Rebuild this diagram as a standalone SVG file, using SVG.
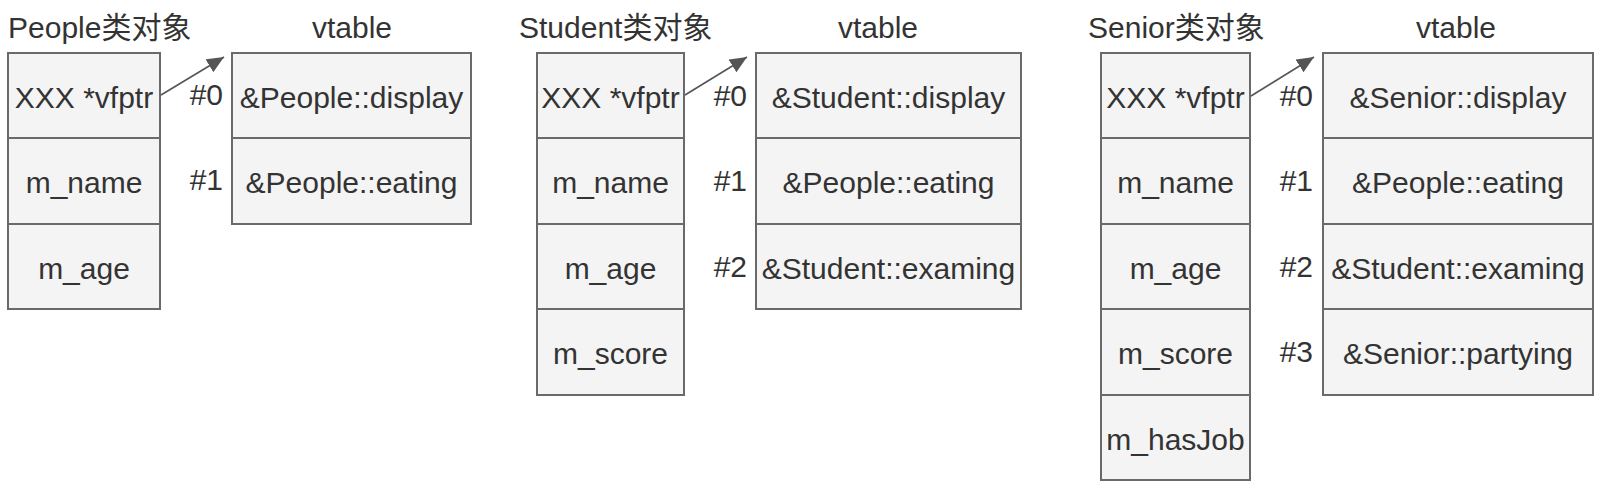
<svg xmlns="http://www.w3.org/2000/svg" width="1609" height="491" viewBox="0 0 1609 491">
<style>
.cell{fill:#f4f4f4;stroke:#6a6a6a;stroke-width:2}
text{font-family:"Liberation Sans",Arial,"Noto Sans CJK SC",sans-serif;font-size:30px;fill:#333}
.c{text-anchor:middle}
.r{text-anchor:end}
.conn{stroke:#555;stroke-width:1.6;fill:none}
</style>
<defs>
<marker id="ah" markerUnits="userSpaceOnUse" markerWidth="18" markerHeight="15" refX="17" refY="7.5" orient="auto">
<path d="M0,0 L17,7.5 L0,15 z" fill="#555"/>
</marker>
</defs>
<rect width="1609" height="491" fill="#fff"/>

<g id="people-obj">
<text x="8" y="38">People类对象</text>
<rect class="cell" x="8" y="53" width="152" height="85"/>
<rect class="cell" x="8" y="138" width="152" height="86"/>
<rect class="cell" x="8" y="224" width="152" height="85"/>
<text class="c" x="84" y="108">XXX *vfptr</text>
<text class="c" x="84" y="193">m_name</text>
<text class="c" x="84" y="279">m_age</text>
</g>
<g id="people-vtable">
<text class="c" x="352" y="38">vtable</text>
<rect class="cell" x="232" y="53" width="239" height="85"/>
<rect class="cell" x="232" y="138" width="239" height="86"/>
<text class="c" x="351.5" y="108">&amp;People::display</text>
<text class="c" x="351.5" y="193">&amp;People::eating</text>
<text class="r" x="223" y="105">#0</text>
<text class="r" x="223" y="190">#1</text>
</g>

<g id="student-obj">
<text x="519" y="38">Student类对象</text>
<rect class="cell" x="537" y="53" width="147" height="85"/>
<rect class="cell" x="537" y="138" width="147" height="86"/>
<rect class="cell" x="537" y="224" width="147" height="85"/>
<rect class="cell" x="537" y="309" width="147" height="86"/>
<text class="c" x="610.5" y="108">XXX *vfptr</text>
<text class="c" x="610.5" y="193">m_name</text>
<text class="c" x="610.5" y="279">m_age</text>
<text class="c" x="610.5" y="364">m_score</text>
</g>
<g id="student-vtable">
<text class="c" x="878" y="38">vtable</text>
<rect class="cell" x="756" y="53" width="265" height="85"/>
<rect class="cell" x="756" y="138" width="265" height="86"/>
<rect class="cell" x="756" y="224" width="265" height="85"/>
<text class="c" x="888.5" y="108">&amp;Student::display</text>
<text class="c" x="888.5" y="193">&amp;People::eating</text>
<text class="c" x="888.5" y="279">&amp;Student::examing</text>
<text class="r" x="747" y="106">#0</text>
<text class="r" x="747" y="191">#1</text>
<text class="r" x="747" y="277">#2</text>
</g>

<g id="senior-obj">
<text x="1088" y="38">Senior类对象</text>
<rect class="cell" x="1101" y="53" width="149" height="85"/>
<rect class="cell" x="1101" y="138" width="149" height="86"/>
<rect class="cell" x="1101" y="224" width="149" height="85"/>
<rect class="cell" x="1101" y="309" width="149" height="86"/>
<rect class="cell" x="1101" y="395" width="149" height="85"/>
<text class="c" x="1175.5" y="108">XXX *vfptr</text>
<text class="c" x="1175.5" y="193">m_name</text>
<text class="c" x="1175.5" y="279">m_age</text>
<text class="c" x="1175.5" y="364">m_score</text>
<text class="c" x="1175.5" y="450">m_hasJob</text>
</g>
<g id="senior-vtable">
<text class="c" x="1456" y="38">vtable</text>
<rect class="cell" x="1323" y="53" width="270" height="85"/>
<rect class="cell" x="1323" y="138" width="270" height="86"/>
<rect class="cell" x="1323" y="224" width="270" height="85"/>
<rect class="cell" x="1323" y="309" width="270" height="86"/>
<text class="c" x="1458" y="108">&amp;Senior::display</text>
<text class="c" x="1458" y="193">&amp;People::eating</text>
<text class="c" x="1458" y="279">&amp;Student::examing</text>
<text class="c" x="1458" y="364">&amp;Senior::partying</text>
<text class="r" x="1313" y="106">#0</text>
<text class="r" x="1313" y="191">#1</text>
<text class="r" x="1313" y="277">#2</text>
<text class="r" x="1313" y="362">#3</text>
</g>

<g id="connectors">
<line class="conn" x1="161" y1="95" x2="224" y2="57" marker-end="url(#ah)"/>
<line class="conn" x1="685" y1="95" x2="747" y2="57" marker-end="url(#ah)"/>
<line class="conn" x1="1251" y1="96" x2="1314" y2="57" marker-end="url(#ah)"/>
</g>
</svg>
